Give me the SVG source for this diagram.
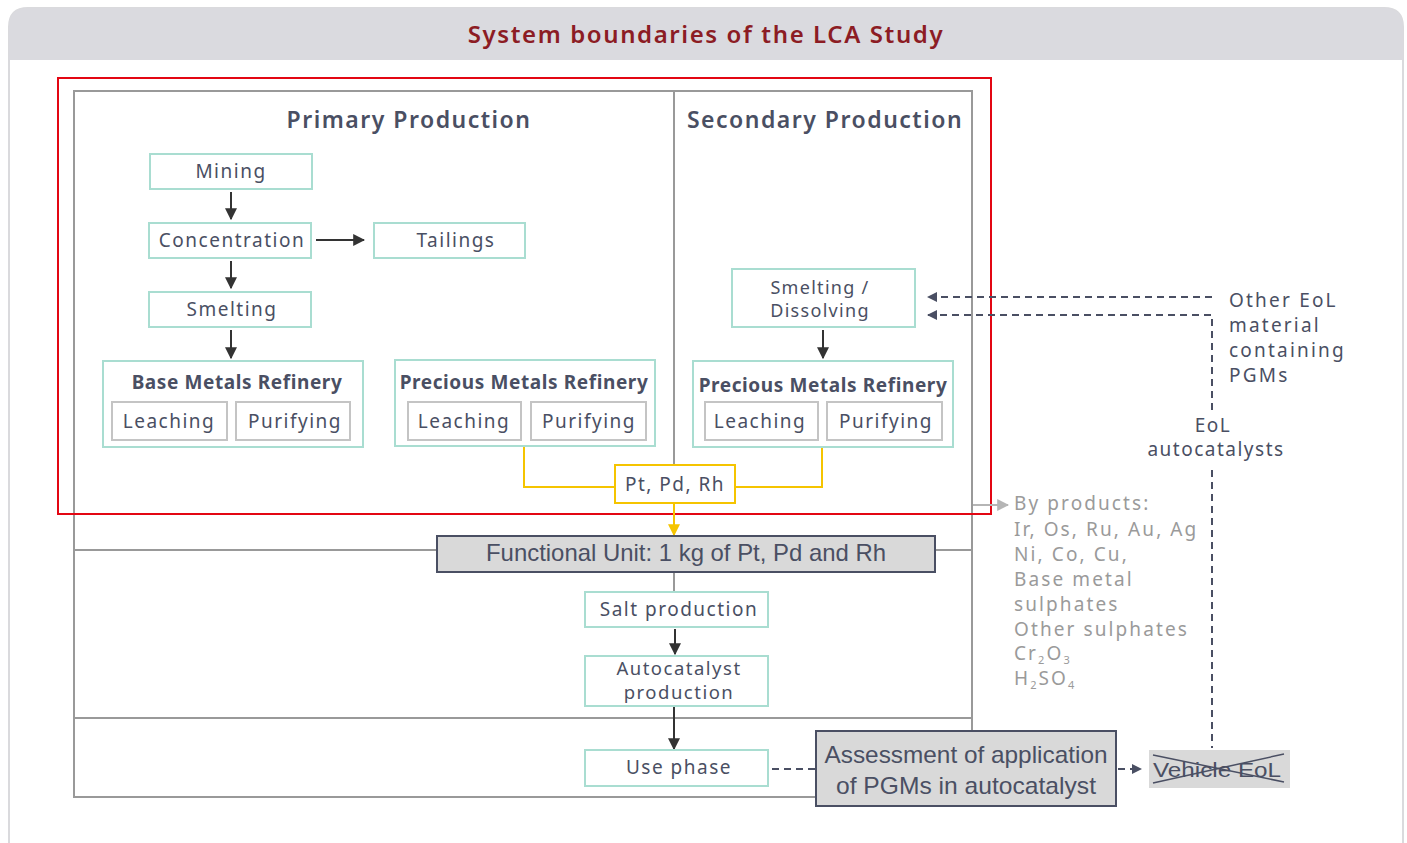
<svg xmlns="http://www.w3.org/2000/svg" width="1407" height="843" viewBox="0 0 1407 843">
<defs>
<style>
text{font-family:"Noto Sans","Open Sans",sans-serif;fill:#4a4f63}
.t{font-size:19px;text-anchor:middle;letter-spacing:1.5px}
.s{font-size:19px;letter-spacing:2.2px}
.h{font-size:23px;font-weight:600;text-anchor:middle;letter-spacing:1.5px}
.rh{font-size:19px;font-weight:700;text-anchor:middle;letter-spacing:0.6px}
.box{fill:#fff;stroke:#a9ddd1;stroke-width:2}
.sub{fill:#fff;stroke:#c4c4c4;stroke-width:2}
.frame{fill:none;stroke:#999;stroke-width:2}
.arr{stroke:#333;stroke-width:2;fill:none}
.dash{stroke:#4a4f63;stroke-width:2;fill:none;stroke-dasharray:7 5}
.yel{stroke:#f5c400;stroke-width:2;fill:none}
.gray{font-size:19px;fill:#9a9a9a;letter-spacing:2.1px}
.grey{fill:#d9d9d9;stroke:#4a4f63;stroke-width:2}
.cond{font-family:"Liberation Sans",sans-serif;font-size:24px;text-anchor:middle}
</style>
<marker id="ab" viewBox="0 0 10 10" refX="9" refY="5" markerWidth="6" markerHeight="6" orient="auto"><path d="M0,0L10,5L0,10z" fill="#333"/></marker>
<marker id="ad" viewBox="0 0 10 10" refX="9" refY="5" markerWidth="5" markerHeight="5" orient="auto"><path d="M0,0L10,5L0,10z" fill="#4a4f63"/></marker>
<marker id="ay" viewBox="0 0 10 10" refX="9" refY="5" markerWidth="6" markerHeight="6" orient="auto"><path d="M0,0L10,5L0,10z" fill="#f5c400"/></marker>
<marker id="ag" viewBox="0 0 10 10" refX="9" refY="5" markerWidth="6" markerHeight="6" orient="auto"><path d="M0,0L10,5L0,10z" fill="#b5b5b5"/></marker>
</defs>
<rect width="1407" height="843" fill="#fff"/>
<g id="panel">
<path d="M9,860V27Q9,8 28,8H1384Q1403,8 1403,27V860" fill="#fff" stroke="#dadadd" stroke-width="2"/>
<path d="M9,60V27Q9,8 28,8H1384Q1403,8 1403,27V60z" fill="#dadadf"/>
<text x="706" y="43" style="font-size:24px;font-weight:600;fill:#8c1c24;text-anchor:middle;letter-spacing:1.6px">System boundaries of the LCA Study</text>
</g>
<g id="frames">
<rect x="74" y="91" width="898" height="706" class="frame"/>
<line x1="674" y1="91" x2="674" y2="536" class="frame"/>
<line x1="674" y1="572" x2="674" y2="592" class="frame"/>
<line x1="74" y1="550" x2="437" y2="550" class="frame"/>
<line x1="935" y1="550" x2="972" y2="550" class="frame"/>
<line x1="74" y1="718" x2="972" y2="718" class="frame"/>
<rect x="58" y="78" width="933" height="436" fill="none" stroke="#e30613" stroke-width="2"/>
<text x="409" y="128" class="h">Primary Production</text>
<text x="825" y="128" class="h">Secondary Production</text>
</g>
<g id="connectors">
<line x1="231" y1="192" x2="231" y2="219" class="arr" marker-end="url(#ab)"/>
<line x1="231" y1="261" x2="231" y2="288" class="arr" marker-end="url(#ab)"/>
<line x1="231" y1="330" x2="231" y2="358" class="arr" marker-end="url(#ab)"/>
<line x1="316" y1="240" x2="364" y2="240" class="arr" marker-end="url(#ab)"/>
<line x1="823" y1="330" x2="823" y2="358" class="arr" marker-end="url(#ab)"/>
<line x1="675" y1="629" x2="675" y2="654" class="arr" marker-end="url(#ab)"/>
<line x1="674" y1="707" x2="674" y2="749" class="arr" marker-end="url(#ab)"/>
<path d="M524,447V487H615" class="yel"/>
<path d="M822,447V487H735" class="yel"/>
<line x1="674" y1="503" x2="674" y2="535" class="yel" marker-end="url(#ay)"/>
<line x1="973" y1="505" x2="1008" y2="505" stroke="#b5b5b5" stroke-width="2" marker-end="url(#ag)"/>
<line x1="1212" y1="297" x2="928" y2="297" class="dash" marker-end="url(#ad)"/>
<path d="M1212,410V315H928" class="dash" marker-end="url(#ad)"/>
<line x1="1212" y1="470" x2="1212" y2="748" class="dash"/>
<line x1="748" y1="769" x2="816" y2="769" class="dash"/>
<line x1="1118" y1="769" x2="1141" y2="769" class="dash" stroke-dasharray="5 4" marker-end="url(#ad)"/>
</g>
<g id="mining"><rect x="150" y="154" width="162" height="35" class="box"/><text x="231" y="178" class="t">Mining</text></g>
<g id="concentration"><rect x="149" y="223" width="162" height="35" class="box"/><text x="232" y="247" class="t">Concentration</text></g>
<g id="tailings"><rect x="374" y="223" width="151" height="35" class="box"/><text x="456" y="247" class="t">Tailings</text></g>
<g id="smelting"><rect x="149" y="292" width="162" height="35" class="box"/><text x="232" y="316" class="t">Smelting</text></g>
<g id="bmr"><rect x="103" y="361" width="260" height="86" class="box"/><text x="237" y="389" class="rh">Base Metals Refinery</text>
<rect x="112" y="402" width="115" height="38" class="sub"/><text x="169" y="428" class="t">Leaching</text>
<rect x="236" y="402" width="114" height="38" class="sub"/><text x="295" y="428" class="t">Purifying</text></g>
<g id="pmr1"><rect x="395" y="360" width="260" height="86" class="box"/><text x="524" y="389" class="rh">Precious Metals Refinery</text>
<rect x="408" y="402" width="113" height="38" class="sub"/><text x="464" y="428" class="t">Leaching</text>
<rect x="531" y="402" width="115" height="38" class="sub"/><text x="589" y="428" class="t">Purifying</text></g>
<g id="smeltdiss"><rect x="732" y="269" width="183" height="58" class="box"/><text x="820" y="294" class="t" style="font-size:18px;letter-spacing:1.3px">Smelting /</text><text x="820" y="317" class="t" style="font-size:18px;letter-spacing:1.3px">Dissolving</text></g>
<g id="pmr2"><rect x="693" y="361" width="260" height="86" class="box"/><text x="823" y="392" class="rh">Precious Metals Refinery</text>
<rect x="705" y="402" width="113" height="38" class="sub"/><text x="760" y="428" class="t">Leaching</text>
<rect x="827" y="402" width="115" height="38" class="sub"/><text x="886" y="428" class="t">Purifying</text></g>
<g id="ptpdrh"><rect x="615" y="465" width="120" height="38" fill="#fff" stroke="#f5c400" stroke-width="2"/><text x="675" y="491" class="t">Pt, Pd, Rh</text></g>
<g id="fu"><rect x="437" y="536" width="498" height="36" class="grey"/><text x="686" y="561" class="cond" textLength="400" lengthAdjust="spacingAndGlyphs">Functional Unit: 1 kg of Pt, Pd and Rh</text></g>
<g id="salt"><rect x="585" y="592" width="183" height="35" class="box"/><text x="679" y="616" class="t">Salt production</text></g>
<g id="autocat"><rect x="585" y="656" width="183" height="50" class="box"/><text x="679" y="675" class="t" style="font-size:18.5px">Autocatalyst</text><text x="679" y="699" class="t" style="font-size:18.5px">production</text></g>
<g id="use"><rect x="585" y="750" width="183" height="36" class="box"/><text x="679" y="774" class="t">Use phase</text></g>
<g id="assess"><rect x="816" y="731" width="300" height="75" class="grey"/><text x="966" y="763" class="cond" textLength="283" lengthAdjust="spacingAndGlyphs">Assessment of application</text><text x="966" y="794" class="cond" textLength="260" lengthAdjust="spacingAndGlyphs">of  PGMs in autocatalyst</text></g>
<g id="vehicle"><rect x="1149" y="750" width="141" height="38" fill="#d9d9d9"/><text x="1217" y="777" class="cond" style="font-size:21px" textLength="128" lengthAdjust="spacingAndGlyphs">Vehicle EoL</text>
<line x1="1153" y1="755" x2="1284" y2="782" stroke="#4a4f63" stroke-width="1.5"/><line x1="1153" y1="783" x2="1284" y2="754" stroke="#4a4f63" stroke-width="1.5"/></g>
<g id="othereol"><text x="1229" y="307" class="s">Other EoL</text><text x="1229" y="332" class="s">material</text><text x="1229" y="357" class="s">containing</text><text x="1229" y="382" class="s">PGMs</text></g>
<g id="eolauto"><text x="1213" y="432" class="t">EoL</text><text x="1216" y="456" class="t">autocatalysts</text></g>
<g id="byproducts">
<text x="1014" y="510" class="gray">By products:</text>
<text x="1014" y="536" class="gray">Ir, Os, Ru, Au, Ag</text>
<text x="1014" y="561" class="gray">Ni, Co, Cu,</text>
<text x="1014" y="586" class="gray">Base metal</text>
<text x="1014" y="611" class="gray">sulphates</text>
<text x="1014" y="636" class="gray">Other sulphates</text>
<text x="1014" y="660" class="gray">Cr<tspan dy="4" font-size="11">2</tspan><tspan dy="-4">O</tspan><tspan dy="4" font-size="11">3</tspan></text>
<text x="1014" y="685" class="gray">H<tspan dy="4" font-size="11">2</tspan><tspan dy="-4">SO</tspan><tspan dy="4" font-size="11">4</tspan></text>
</g>
</svg>
